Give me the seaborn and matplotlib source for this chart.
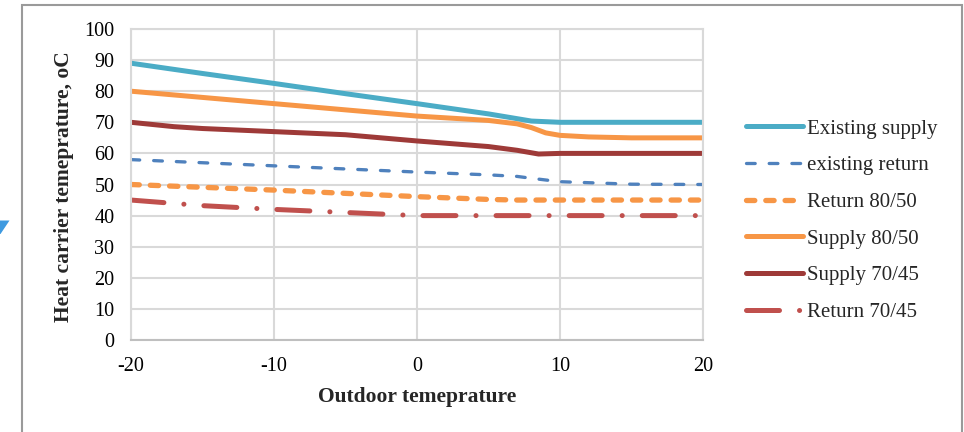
import numpy as np
import pandas as pd
import matplotlib
matplotlib.use("Agg")
import matplotlib.pyplot as plt
from matplotlib.patches import Rectangle, Polygon
import seaborn as sns

# ---- data ----
x_existing_supply = [-20, -15, -10, -5, 0, 5, 8, 10, 15, 20]
y_existing_supply = [89, 85.7, 82.5, 79.2, 76, 72.7, 70.4, 70, 70, 70]

x_existing_return = [-20, -10, 0, 5, 7, 8, 10, 15, 20]
y_existing_return = [58, 56, 54, 53.1, 52.6, 52, 50.9, 50.1, 50]

x_return_8050 = [-20, -10, 0, 5, 7, 10, 15, 20]
y_return_8050 = [50, 48.2, 46.1, 45.2, 45, 45, 45, 45]

x_supply_8050 = [-20, -15, -10, -5, 0, 5, 7, 8, 9, 10, 12, 15, 20]
y_supply_8050 = [80, 78, 76, 74, 72, 70.6, 69.5, 68.3, 66.6, 65.8, 65.3, 65, 65]

x_supply_7045 = [-20, -17, -15, -10, -5, 0, 5, 7, 8.5, 10, 15, 20]
y_supply_7045 = [70, 68.6, 68, 67, 66, 64, 62.2, 61, 59.8, 60, 60, 60]

x_return_7045 = [-20, -15, -10, -5, 0, 5, 10, 15, 20]
y_return_7045 = [45, 43.2, 42, 41, 40, 40, 40, 40, 40]

series_names = ["Existing supply", "existing return", "Return 80/50",
                "Supply 80/50", "Supply 70/45", "Return 70/45"]
x_ticks = [-20, -10, 0, 10, 20]
y_ticks = [0, 10, 20, 30, 40, 50, 60, 70, 80, 90, 100]

# ---- style ----
sns.set_theme(style="white")
plt.rcParams["font.family"] = ["Liberation Serif", "DejaVu Serif"]
plt.rcParams["lines.scale_dashes"] = False

fig = plt.figure(figsize=(9.64, 4.32), dpi=100)
ax = fig.add_axes([131 / 964, 1 - 340 / 432, (703 - 131) / 964, (340 - 29) / 432])

px = 0.72  # points per pixel at 100 dpi
styles = [
    (x_existing_supply, y_existing_supply, "#4BACC6", 5.0, None),
    (x_existing_return, y_existing_return, "#4F81BD", 3.3, (8.7 * px, 14 * px)),
    (x_return_8050, y_return_8050, "#F79646", 5.3, (8.3 * px, 11 * px)),
    (x_supply_8050, y_supply_8050, "#F79646", 5.0, None),
    (x_supply_7045, y_supply_7045, "#9E3A38", 5.0, None),
    (x_return_7045, y_return_7045, "#C0504D", 5.0, (33 * px, 20 * px, 0.1 * px, 20 * px)),
]

for name, (xs, ys, col, lw, dash) in zip(series_names, styles):
    df = pd.DataFrame({"T": xs, "v": ys})
    sns.lineplot(data=df, x="T", y="v", ax=ax, color=col, linewidth=lw * px,
                 label=name, sort=False, estimator=None)
    line = ax.lines[-1]
    line.set_solid_capstyle("round")
    line.set_solid_joinstyle("round")
    if dash is not None:
        line.set_dashes(dash)
        line.set_dash_capstyle("round")

ax.set_xlim(-20, 20)
ax.set_ylim(0, 100)
ax.set_xticks(x_ticks)
ax.set_yticks(y_ticks)
ax.set_xticklabels([str(t) for t in x_ticks])
ax.set_yticklabels([str(t) for t in y_ticks])
ax.grid(True, color="#D9D9D9", linewidth=1.5)
ax.set_axisbelow(True)
for side, sp in ax.spines.items():
    sp.set_color("#D9D9D9")
    sp.set_linewidth(1.5)
ax.spines["bottom"].set_color("#BFBFBF")
ax.tick_params(axis="both", length=0, labelsize=14.5, colors="#000000", pad=12)
ax.set_xlabel("")
ax.set_ylabel("")

fig.text(417 / 964, 1 - 397 / 432, "Outdoor temeprature", ha="center", va="center",
         fontsize=15.5, fontweight="bold")
fig.text(64 / 964, 1 - 186.5 / 432, "Heat carrier temeprature, oC", ha="center",
         va="center", rotation=90, fontsize=15.5, fontweight="bold")

leg = ax.legend(loc="center left", bbox_to_anchor=(746 / 964, 1 - 220.5 / 432),
                bbox_transform=fig.transFigure, frameon=False, fontsize=15,
                handlelength=2.75, handletextpad=0.2, labelspacing=0.82,
                borderpad=0, borderaxespad=0)

# outer frame and corner artifact
fig.patches.append(Rectangle((22 / 964, -0.1), (962 - 22) / 964, 1.1 - 5 / 432,
                             transform=fig.transFigure, fill=False,
                             edgecolor="#9A9A9A", linewidth=1.5))
fig.patches.append(Polygon([(0, 1 - 220.5 / 432), (9.5 / 964, 1 - 220.5 / 432),
                            (0.5 / 964, 1 - 234 / 432), (0, 1 - 234 / 432)],
                           closed=True, transform=fig.transFigure,
                           facecolor="#3E9AE0", edgecolor="none"))

fig.savefig("out.png", dpi=100, facecolor="white")
